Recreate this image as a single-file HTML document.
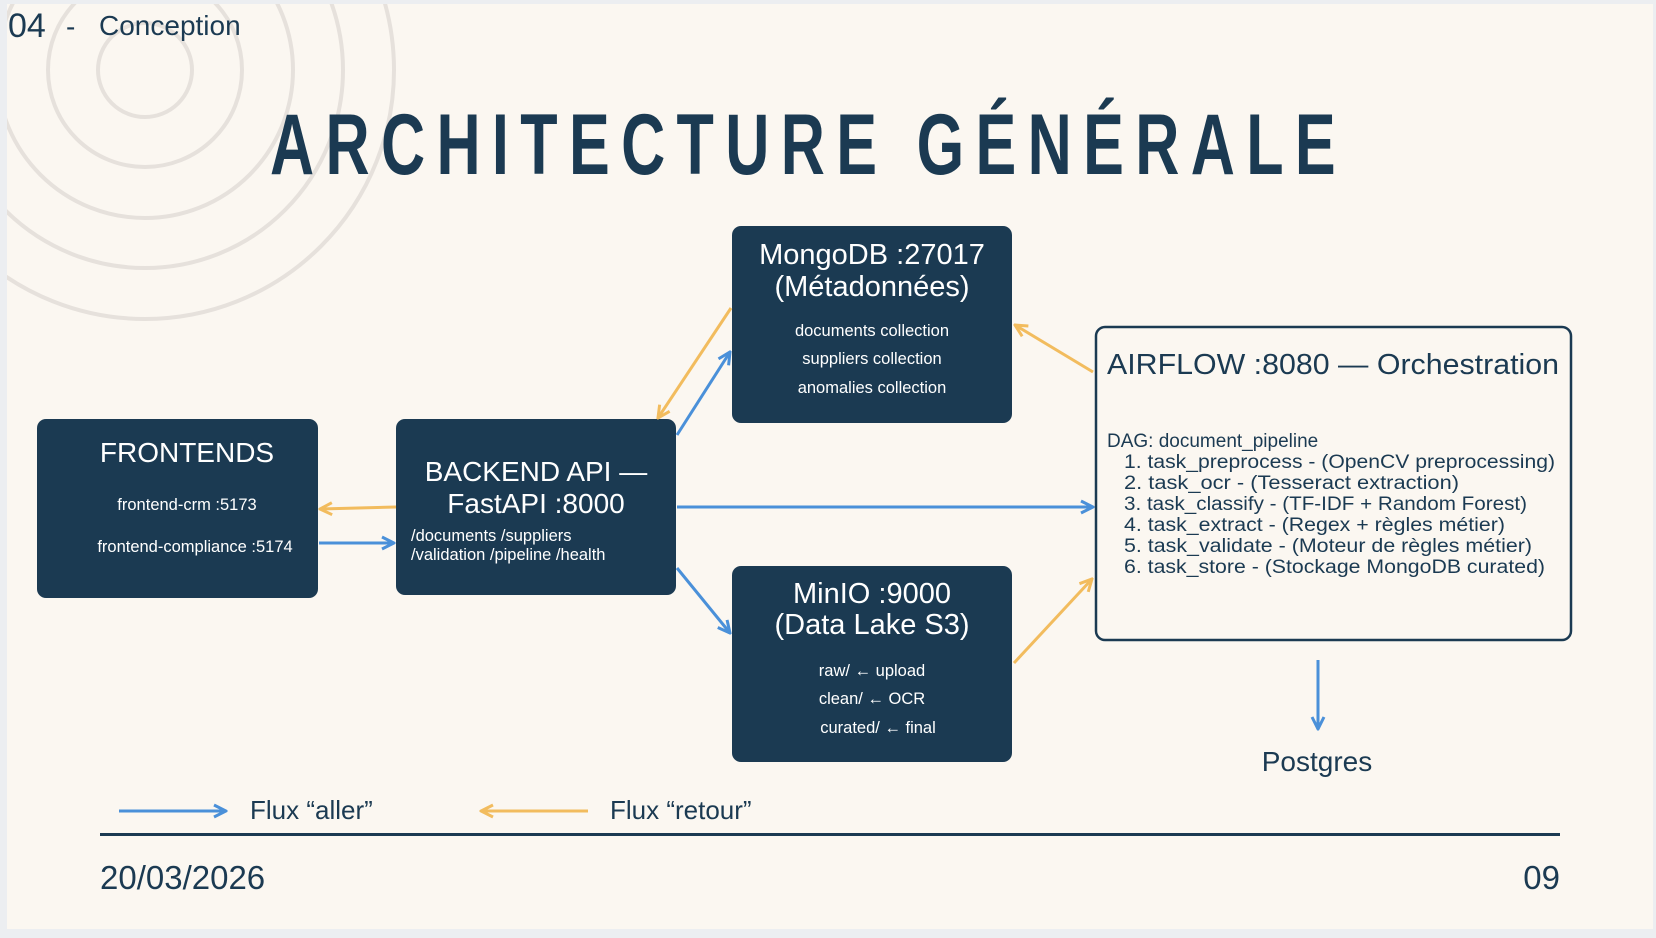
<!DOCTYPE html>
<html><head><meta charset="utf-8"><style>
html,body{margin:0;padding:0;background:#eceef1;}
svg{display:block;}
text{font-family:"Liberation Sans",sans-serif;}
</style></head><body>
<svg width="1656" height="938" viewBox="0 0 1656 938" xmlns="http://www.w3.org/2000/svg">
<defs>
<marker id="ab" viewBox="0 0 10 10" refX="9" refY="5" markerWidth="5" markerHeight="5" orient="auto"><path d="M1,1 L9,5 L1,9" fill="none" stroke="#4a90d9" stroke-width="2"/></marker>
<marker id="ao" viewBox="0 0 10 10" refX="9" refY="5" markerWidth="5" markerHeight="5" orient="auto"><path d="M1,1 L9,5 L1,9" fill="none" stroke="#f2bc5e" stroke-width="2"/></marker>
<clipPath id="sl"><rect x="7" y="4" width="1646" height="925"/></clipPath>
</defs>
<rect x="0" y="0" width="1656" height="938" fill="#eceef1"/>
<rect x="7" y="4" width="1646" height="925" fill="#fbf7f1"/>
<g clip-path="url(#sl)" fill="none" stroke="#e6e1dc" stroke-width="4">
<circle cx="145" cy="70" r="47"/><circle cx="145" cy="70" r="97"/><circle cx="145" cy="70" r="148"/><circle cx="145" cy="70" r="198"/><circle cx="145" cy="70" r="249"/>
</g>
<g fill="#1b3a52">
<text x="8" y="37" font-size="34">04</text>
<text x="66" y="36" font-size="28">-</text>
<text x="99" y="35" font-size="28">Conception</text>
<text x="270" y="174" font-size="86" font-weight="bold" letter-spacing="16" textLength="1077" lengthAdjust="spacingAndGlyphs">ARCHITECTURE GÉNÉRALE</text>
</g>
<!-- boxes -->
<rect x="37" y="419" width="281" height="179" rx="9" fill="#1b3a52"/>
<rect x="396" y="419" width="280" height="176" rx="9" fill="#1b3a52"/>
<rect x="732" y="226" width="280" height="197" rx="9" fill="#1b3a52"/>
<rect x="732" y="566" width="280" height="196" rx="9" fill="#1b3a52"/>
<rect x="1096" y="327" width="475" height="313" rx="9" fill="none" stroke="#1b3a52" stroke-width="2.5"/>
<g fill="#fff" text-anchor="middle">
<text x="187" y="462" font-size="28">FRONTENDS</text>
<text x="187" y="510" font-size="16.5">frontend-crm :5173</text>
<text x="195" y="552" font-size="16.5">frontend-compliance :5174</text>
<text x="536" y="481" font-size="28">BACKEND API —</text>
<text x="536" y="513" font-size="28">FastAPI :8000</text>
<text x="872" y="264" font-size="29">MongoDB :27017</text>
<text x="872" y="296" font-size="29">(Métadonnées)</text>
<text x="872" y="336" font-size="16.5">documents collection</text>
<text x="872" y="364" font-size="16.5">suppliers collection</text>
<text x="872" y="393" font-size="16.5">anomalies collection</text>
<text x="872" y="603" font-size="29">MinIO :9000</text>
<text x="872" y="634" font-size="29">(Data Lake S3)</text>
<text x="872" y="676" font-size="16.5">raw/ ← upload</text>
<text x="872" y="704" font-size="16.5">clean/ ← OCR</text>
<text x="878" y="733" font-size="16.5">curated/ ← final</text>
</g>
<g fill="#fff" font-size="16.5">
<text x="411" y="541">/documents  /suppliers</text>
<text x="411" y="560">/validation  /pipeline  /health</text>
</g>
<g fill="#1b3a52">
<text x="1107" y="374" font-size="28.5" textLength="452" lengthAdjust="spacingAndGlyphs">AIRFLOW :8080 — Orchestration</text>
<g font-size="19">
<text x="1107" y="447">DAG: document_pipeline</text>
<text x="1124" y="468" textLength="431" lengthAdjust="spacingAndGlyphs">1. task_preprocess - (OpenCV preprocessing)</text>
<text x="1124" y="489" textLength="335" lengthAdjust="spacingAndGlyphs">2. task_ocr - (Tesseract extraction)</text>
<text x="1124" y="510" textLength="403" lengthAdjust="spacingAndGlyphs">3. task_classify - (TF-IDF + Random Forest)</text>
<text x="1124" y="531" textLength="381" lengthAdjust="spacingAndGlyphs">4. task_extract - (Regex + règles métier)</text>
<text x="1124" y="552" textLength="408" lengthAdjust="spacingAndGlyphs">5. task_validate - (Moteur de règles métier)</text>
<text x="1124" y="573" textLength="421" lengthAdjust="spacingAndGlyphs">6. task_store - (Stockage MongoDB curated)</text>
</g>
<text x="1317" y="771" font-size="28" text-anchor="middle">Postgres</text>
<text x="250" y="819" font-size="26">Flux “aller”</text>
<text x="610" y="819" font-size="26">Flux “retour”</text>
<text x="100" y="889" font-size="33">20/03/2026</text>
<text x="1560" y="889" font-size="33" text-anchor="end">09</text>
</g>
<rect x="100" y="833" width="1460" height="3" fill="#1b3a52"/>
<!-- arrows -->
<g stroke-width="3" fill="none">
<line x1="396" y1="507" x2="320" y2="509" stroke="#f2bc5e" marker-end="url(#ao)"/>
<line x1="319" y1="543" x2="394" y2="543" stroke="#4a90d9" marker-end="url(#ab)"/>
<line x1="677" y1="435" x2="730" y2="352" stroke="#4a90d9" marker-end="url(#ab)"/>
<line x1="731" y1="308" x2="658" y2="418" stroke="#f2bc5e" marker-end="url(#ao)"/>
<line x1="677" y1="507" x2="1093" y2="507" stroke="#4a90d9" marker-end="url(#ab)"/>
<line x1="677" y1="568" x2="730" y2="633" stroke="#4a90d9" marker-end="url(#ab)"/>
<line x1="1093" y1="372" x2="1015" y2="325" stroke="#f2bc5e" marker-end="url(#ao)"/>
<line x1="1014" y1="663" x2="1092" y2="579" stroke="#f2bc5e" marker-end="url(#ao)"/>
<line x1="1318" y1="660" x2="1318" y2="729" stroke="#4a90d9" marker-end="url(#ab)"/>
<line x1="119" y1="811" x2="226" y2="811" stroke="#4a90d9" marker-end="url(#ab)"/>
<line x1="588" y1="811" x2="481" y2="811" stroke="#f2bc5e" marker-end="url(#ao)"/>
</g>
</svg>
</body></html>
